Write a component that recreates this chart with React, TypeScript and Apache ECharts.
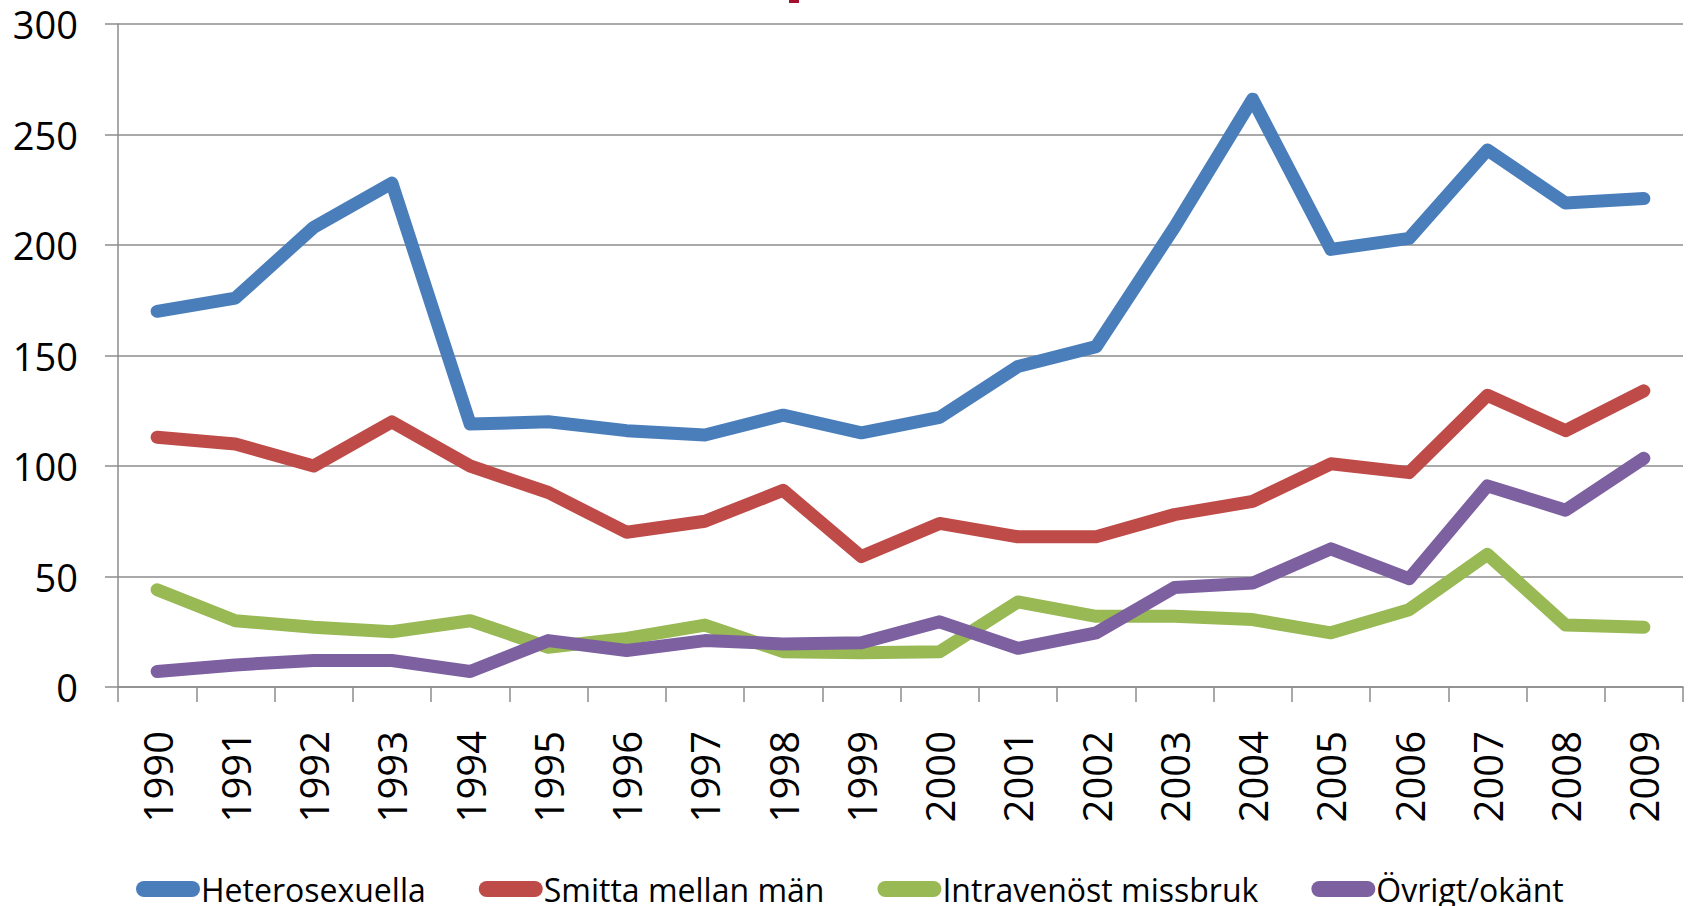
import React, { useEffect, useRef } from "react";
import * as echarts from "echarts";

const years = ["1990","1991","1992","1993","1994","1995","1996","1997","1998","1999","2000","2001","2002","2003","2004","2005","2006","2007","2008","2009"];
const yTicks = [0, 50, 100, 150, 200, 250, 300];
const heterosexuella = [170, 176, 208, 228, 119, 120, 116, 114, 123, 115, 122, 145, 154, 208, 266, 198, 203, 243, 219, 221];
const smittaMellanMan = [113, 110, 100, 120, 100, 88, 70, 75, 89, 59, 74, 68, 68, 78, 84, 101, 97, 132, 116, 134];
const intravenostMissbruk = [44, 30, 27, 25, 30, 18, 22, 28, 16, 15.5, 16, 38.5, 32, 32, 30.5, 24.5, 35, 60, 28, 27];
const ovrigtOkant = [7, 10, 12, 12, 7, 21, 16.5, 21, 19.5, 20, 29.5, 17.5, 24.5, 45, 47, 62.5, 49, 91, 80, 103.5];
const seriesNames = ["Heterosexuella", "Smitta mellan män", "Intravenöst missbruk", "Övrigt/okänt"];
const colors = ["#4a7ebb", "#be4b48", "#98b954", "#7d60a0"];

const capsule = "path://M8,0 H56 A8,8 0 0 1 56,16 H8 A8,8 0 0 1 8,0 Z";

export default function App() {
  const ref = useRef<HTMLDivElement>(null);
  useEffect(() => {
    if (!ref.current) return;
    const chart = echarts.init(ref.current, null, { renderer: "svg" });
    const data = [heterosexuella, smittaMellanMan, intravenostMissbruk, ovrigtOkant];
    chart.setOption({
      animation: false,
      backgroundColor: "#ffffff",
      textStyle: { fontFamily: "Open Sans" },
      graphic: [
        { type: "rect", shape: { x: 789, y: 0, width: 10, height: 3 }, style: { fill: "#a50f2d" } },
      ],
      grid: { left: 118, right: 5, top: 24, bottom: 219, containLabel: false },
      legend: {
        left: 131,
        top: 866,
        itemWidth: 64,
        itemHeight: 16,
        itemGap: 53,
        symbolKeepAspect: false,
        data: seriesNames.map((n, i) => ({
          name: n,
          icon: capsule,
          itemStyle: { color: colors[i], borderWidth: 0 },
        })),
        textStyle: { fontFamily: "Open Sans", fontSize: 32, color: "#000", lineHeight: 36, padding: [0, 0, 0, -4] },
      },
      xAxis: {
        type: "category",
        data: years,
        boundaryGap: true,
        axisLine: { show: true, lineStyle: { color: "#8c8c8c", width: 1.5 } },
        axisTick: { show: true, length: 15, lineStyle: { color: "#8c8c8c", width: 1.5 } },
        axisLabel: { interval: 0, rotate: 90, margin: 44, fontSize: 40, color: "#000", fontFamily: "Open Sans" },
        splitLine: { show: false },
      },
      yAxis: {
        type: "value",
        min: yTicks[0],
        max: yTicks[yTicks.length - 1],
        interval: 50,
        axisLine: { show: true, lineStyle: { color: "#8c8c8c", width: 1.5 } },
        axisTick: { show: true, length: 13, lineStyle: { color: "#8c8c8c", width: 1.5 } },
        axisLabel: { margin: 40, fontSize: 38, color: "#000", fontFamily: "Open Sans" },
        splitLine: { show: true, lineStyle: { color: "#8c8c8c", width: 1.5 } },
      },
      series: seriesNames.map((name, i) => ({
        name,
        type: "line",
        data: data[i],
        symbol: "none",
        color: colors[i],
        lineStyle: { width: 13, color: colors[i], cap: "round", join: "round" },
        itemStyle: { color: colors[i] },
      })),
    });
    return () => chart.dispose();
  }, []);
  return <div ref={ref} style={{ position: "fixed", left: 0, top: 0, width: 1688, height: 906 }} />;
}
